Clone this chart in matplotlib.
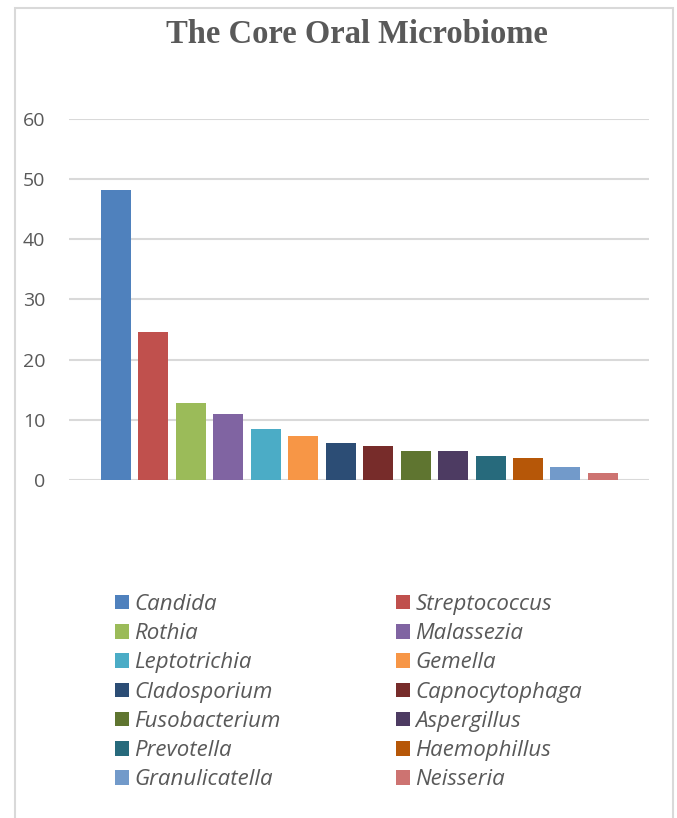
import matplotlib
matplotlib.use("Agg")
import matplotlib.pyplot as plt
from matplotlib.patches import Rectangle, Patch

genera = ["Candida", "Streptococcus", "Rothia", "Malassezia", "Leptotrichia",
          "Gemella", "Cladosporium", "Capnocytophaga", "Fusobacterium",
          "Aspergillus", "Prevotella", "Haemophillus", "Granulicatella", "Neisseria"]
values = [48.3, 24.6, 12.8, 10.95, 8.45, 7.3, 6.1, 5.6, 4.8, 4.8, 3.95, 3.6, 2.1, 1.1]
colors = ["#4F81BD", "#C0504D", "#9BBB59", "#8064A2", "#4BACC6", "#F79646",
          "#2C4D75", "#772C2A", "#5F7530", "#4D3B62", "#276A7C", "#B65708",
          "#729ACA", "#CD7371"]
yticks = [0, 10, 20, 30, 40, 50, 60]

W, H = 677, 818
fig = plt.figure(figsize=(W / 100, H / 100), dpi=100)
text_col = "#595959"
grid_col = "#D9D9D9"

# chart border
fig.patches.append(Rectangle((15 / W, -0.05), (673 - 15) / W, 1.05 - 8 / H,
                             transform=fig.transFigure, fill=False,
                             edgecolor=grid_col, linewidth=1.5))

ax = fig.add_axes([69 / W, 1 - 479.7 / H, (649 - 69) / W, (479.7 - 119.3) / H])
x = list(range(len(genera)))
ax.bar(x, values, width=0.8, color=colors, zorder=3)
ax.set_ylim(0, 60)
ax.set_xlim(-1.255, 14.23)
ax.set_yticks(yticks)
ax.set_xticks([])
ax.yaxis.grid(True, color=grid_col, linewidth=1.5, zorder=0)
for s in ax.spines.values():
    s.set_visible(False)
ax.tick_params(axis="y", length=0, pad=17, labelsize=14, labelcolor=text_col)
for lbl in ax.get_yticklabels():
    lbl.set_fontfamily("Open Sans")

fig.text(356.5 / W, 1 - 43.3 / H, "The Core Oral Microbiome", ha="center",
         va="baseline", fontsize=23.5, fontweight="bold", color=text_col,
         fontfamily="Liberation Serif")

# legend in two columns, row order
handles = [Patch(facecolor=c, edgecolor="none") for c in colors]
for col, xpix in ((0, 115), (1, 396)):
    leg = fig.legend(handles[col::2], genera[col::2], loc="upper left",
                     bbox_to_anchor=(xpix / W, 1 - 594 / H), frameon=False,
                     borderpad=0, borderaxespad=0, handlelength=0.63,
                     handleheight=0.63, handletextpad=0.23, labelspacing=0.37,
                     prop={"family": "Open Sans", "style": "italic", "size": 16})
    for t in leg.get_texts():
        t.set_color(text_col)

fig.savefig("out.png", dpi=100)
